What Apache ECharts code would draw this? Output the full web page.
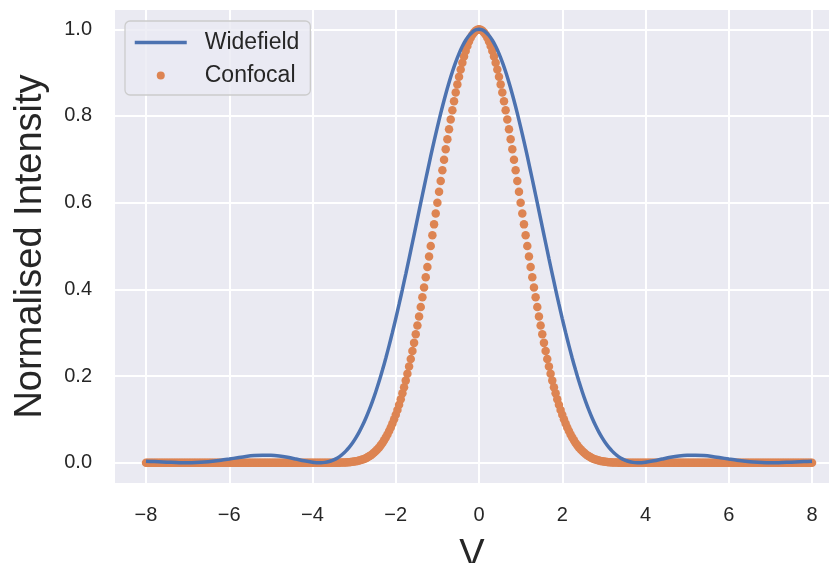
<!DOCTYPE html>
<html>
<head>
<meta charset="utf-8">
<script src="https://cdn.jsdelivr.net/npm/echarts@6/dist/echarts.min.js"></script>
<style>
  html, body { margin: 0; padding: 0; background: #fff; }
  #chart { width: 829px; height: 563px; }
</style>
</head>
<body>
<div id="chart"></div>
<script>
// tick positions
const xTicks = [-8, -6, -4, -2, 0, 2, 4, 6, 8]
const yTicks = [0, 0.2, 0.4, 0.6, 0.8, 1.0]

// widefield curve
const wideV = [
  -8, -7.8, -7.6, -7.4, -7.2, -7, -6.8, -6.6, -6.4, -6.2, -6, -5.8, -5.6, -5.4, -5.2, -5, -4.8, -4.6, -4.4, -4.2, -4,
  -3.9, -3.8, -3.7,
  -3.6, -3.52, -3.44, -3.36, -3.28, -3.2, -3.12, -3.04, -2.96, -2.88, -2.8, -2.72, -2.64, -2.56, -2.48, -2.4,
  -2.32, -2.24, -2.16, -2.08, -2, -1.92, -1.84, -1.76, -1.68, -1.6, -1.52, -1.44, -1.36, -1.28, -1.2,
  -1.12, -1.04, -0.96, -0.88, -0.8, -0.72, -0.64, -0.56, -0.48, -0.4, -0.32, -0.24, -0.16, -0.08,
  0,
  0.08, 0.16, 0.24, 0.32, 0.4, 0.48, 0.56, 0.64, 0.72, 0.8, 0.88, 0.96, 1.04, 1.12,
  1.2, 1.28, 1.36, 1.44, 1.52, 1.6, 1.68, 1.76, 1.84, 1.92, 2, 2.08, 2.16, 2.24, 2.32,
  2.4, 2.48, 2.56, 2.64, 2.72, 2.8, 2.88, 2.96, 3.04, 3.12, 3.2, 3.28, 3.36, 3.44, 3.52, 3.6,
  3.7, 3.8, 3.9,
  4, 4.2, 4.4, 4.6, 4.8, 5, 5.2, 5.4, 5.6, 5.8, 6, 6.2, 6.4, 6.6, 6.8, 7, 7.2, 7.4, 7.6, 7.8, 8
]
const wideI = [
  0.0034, 0.0027, 0.0018, 0.0009, 0.0002, 0.0000, 0.0004, 0.0014, 0.0032, 0.0056, 0.0085, 0.0115, 0.0143, 0.0164, 0.0174, 0.0172, 0.0155, 0.0124, 0.0085, 0.0044, 0.0011,
  0.0002, 0.0000, 0.0008,
  0.0028, 0.0054, 0.0089, 0.0136, 0.0195, 0.0267, 0.0353, 0.0454, 0.0572, 0.0705, 0.0856, 0.1025, 0.1212, 0.1416, 0.1639, 0.1879,
  0.2137, 0.2411, 0.2702, 0.3007, 0.3326, 0.3658, 0.4000, 0.4352, 0.4711, 0.5075, 0.5442, 0.5810, 0.6177, 0.6540, 0.6897,
  0.7245, 0.7582, 0.7906, 0.8213, 0.8503, 0.8772, 0.9019, 0.9241, 0.9438, 0.9607, 0.9747, 0.9857, 0.9936, 0.9984,
  1.0000,
  0.9984, 0.9936, 0.9857, 0.9747, 0.9607, 0.9438, 0.9241, 0.9019, 0.8772, 0.8503, 0.8213, 0.7906, 0.7582, 0.7245,
  0.6897, 0.6540, 0.6177, 0.5810, 0.5442, 0.5075, 0.4711, 0.4352, 0.4000, 0.3658, 0.3326, 0.3007, 0.2702, 0.2411, 0.2137,
  0.1879, 0.1639, 0.1416, 0.1212, 0.1025, 0.0856, 0.0705, 0.0572, 0.0454, 0.0353, 0.0267, 0.0195, 0.0136, 0.0089, 0.0054, 0.0028,
  0.0008, 0.0000, 0.0002,
  0.0011, 0.0044, 0.0085, 0.0124, 0.0155, 0.0172, 0.0174, 0.0164, 0.0143, 0.0115, 0.0085, 0.0056, 0.0032, 0.0014, 0.0004, 0.0000, 0.0002, 0.0009, 0.0018, 0.0027, 0.0034
]

// confocal points
const confV = [
  -8, -7.96, -7.92, -7.88, -7.84, -7.8, -7.76, -7.72, -7.68, -7.64, -7.6, -7.56, -7.52, -7.48, -7.44, -7.4, -7.36, -7.32, -7.28, -7.24, -7.2, -7.16, -7.12, -7.08, -7.04,
  -7, -6.96, -6.92, -6.88, -6.84, -6.8, -6.76, -6.72, -6.68, -6.64, -6.6, -6.56, -6.52, -6.48, -6.44, -6.4, -6.36, -6.32, -6.28, -6.24, -6.2, -6.16, -6.12, -6.08, -6.04,
  -6, -5.96, -5.92, -5.88, -5.84, -5.8, -5.76, -5.72, -5.68, -5.64, -5.6, -5.56, -5.52, -5.48, -5.44, -5.4, -5.36, -5.32, -5.28, -5.24, -5.2, -5.16, -5.12, -5.08, -5.04,
  -5, -4.96, -4.92, -4.88, -4.84, -4.8, -4.76, -4.72, -4.68, -4.64, -4.6, -4.56, -4.52, -4.48, -4.44, -4.4, -4.36, -4.32, -4.28, -4.24, -4.2, -4.16, -4.12, -4.08, -4.04,
  -4, -3.96, -3.92, -3.88, -3.84, -3.8, -3.76, -3.72, -3.68, -3.64, -3.6, -3.56, -3.52, -3.48, -3.44, -3.4, -3.36, -3.32, -3.28, -3.24, -3.2, -3.16, -3.12, -3.08, -3.04,
  -3, -2.96, -2.92, -2.88, -2.84, -2.8, -2.76, -2.72, -2.68, -2.64, -2.6, -2.56, -2.52, -2.48, -2.44, -2.4, -2.36, -2.32, -2.28, -2.24, -2.2, -2.16, -2.12, -2.08, -2.04,
  -2, -1.96, -1.92, -1.88, -1.84, -1.8, -1.76, -1.72, -1.68, -1.64, -1.6, -1.56, -1.52, -1.48, -1.44, -1.4, -1.36, -1.32, -1.28, -1.24, -1.2, -1.16, -1.12, -1.08, -1.04,
  -1, -0.96, -0.92, -0.88, -0.84, -0.8, -0.76, -0.72, -0.68, -0.64, -0.6, -0.56, -0.52, -0.48, -0.44, -0.4, -0.36, -0.32, -0.28, -0.24, -0.2, -0.16, -0.12, -0.08, -0.04,
  0,
  0.04, 0.08, 0.12, 0.16, 0.2, 0.24, 0.28, 0.32, 0.36, 0.4, 0.44, 0.48, 0.52, 0.56, 0.6, 0.64, 0.68, 0.72, 0.76, 0.8, 0.84, 0.88, 0.92, 0.96, 1,
  1.04, 1.08, 1.12, 1.16, 1.2, 1.24, 1.28, 1.32, 1.36, 1.4, 1.44, 1.48, 1.52, 1.56, 1.6, 1.64, 1.68, 1.72, 1.76, 1.8, 1.84, 1.88, 1.92, 1.96, 2,
  2.04, 2.08, 2.12, 2.16, 2.2, 2.24, 2.28, 2.32, 2.36, 2.4, 2.44, 2.48, 2.52, 2.56, 2.6, 2.64, 2.68, 2.72, 2.76, 2.8, 2.84, 2.88, 2.92, 2.96, 3,
  3.04, 3.08, 3.12, 3.16, 3.2, 3.24, 3.28, 3.32, 3.36, 3.4, 3.44, 3.48, 3.52, 3.56, 3.6, 3.64, 3.68, 3.72, 3.76, 3.8, 3.84, 3.88, 3.92, 3.96, 4,
  4.04, 4.08, 4.12, 4.16, 4.2, 4.24, 4.28, 4.32, 4.36, 4.4, 4.44, 4.48, 4.52, 4.56, 4.6, 4.64, 4.68, 4.72, 4.76, 4.8, 4.84, 4.88, 4.92, 4.96, 5,
  5.04, 5.08, 5.12, 5.16, 5.2, 5.24, 5.28, 5.32, 5.36, 5.4, 5.44, 5.48, 5.52, 5.56, 5.6, 5.64, 5.68, 5.72, 5.76, 5.8, 5.84, 5.88, 5.92, 5.96, 6,
  6.04, 6.08, 6.12, 6.16, 6.2, 6.24, 6.28, 6.32, 6.36, 6.4, 6.44, 6.48, 6.52, 6.56, 6.6, 6.64, 6.68, 6.72, 6.76, 6.8, 6.84, 6.88, 6.92, 6.96, 7,
  7.04, 7.08, 7.12, 7.16, 7.2, 7.24, 7.28, 7.32, 7.36, 7.4, 7.44, 7.48, 7.52, 7.56, 7.6, 7.64, 7.68, 7.72, 7.76, 7.8, 7.84, 7.88, 7.92, 7.96, 8
]
const confI = [
  0, 0, 0, 0, 0, 0, 0, 0, 0, 0, 0, 0, 0, 0, 0, 0, 0, 0, 0, 0, 0, 0, 0, 0, 0,
  0, 0, 0, 0, 0, 0, 0, 0, 0, 0, 0, 0, 0, 0, 0, 0, 0, 0, 0, 0, 0, 0, 0, 0, 0,
  0, 0, 0, 0, 0, 0, 0, 0, 0, 0, 0, 0, 0, 0, 0, 0, 0, 0, 0, 0, 0, 0, 0, 0, 0,
  0, 0, 0, 0, 0, 0, 0, 0, 0, 0, 0, 0, 0, 0, 0, 0, 0, 0, 0, 0, 0, 0, 0, 0, 0,
  0, 0, 0, 0, 0, 0, 0, 0, 0, 0, 0, 0, 0, 0, 0.0001, 0.0001, 0.0002, 0.0003, 0.0004, 0.0005, 0.0007, 0.0009, 0.0012, 0.0016, 0.0021,
  0.0026, 0.0033, 0.0041, 0.0050, 0.0061, 0.0073, 0.0088, 0.0105, 0.0125, 0.0147, 0.0172, 0.0201, 0.0233, 0.0269, 0.0309, 0.0353, 0.0402, 0.0457, 0.0516, 0.0581, 0.0653, 0.0730, 0.0814, 0.0904, 0.1002,
  0.1106, 0.1218, 0.1338, 0.1465, 0.1600, 0.1743, 0.1894, 0.2052, 0.2219, 0.2393, 0.2575, 0.2765, 0.2962, 0.3165, 0.3376, 0.3593, 0.3816, 0.4044, 0.4277, 0.4515, 0.4757, 0.5002, 0.5249, 0.5499, 0.5749,
  0.6000, 0.6250, 0.6499, 0.6746, 0.6990, 0.7230, 0.7465, 0.7695, 0.7918, 0.8134, 0.8341, 0.8540, 0.8729, 0.8907, 0.9074, 0.9229, 0.9371, 0.9500, 0.9615, 0.9716, 0.9802, 0.9873, 0.9928, 0.9968, 0.9992,
  1,
  0.9992, 0.9968, 0.9928, 0.9873, 0.9802, 0.9716, 0.9615, 0.9500, 0.9371, 0.9229, 0.9074, 0.8907, 0.8729, 0.8540, 0.8341, 0.8134, 0.7918, 0.7695, 0.7465, 0.7230, 0.6990, 0.6746, 0.6499, 0.6250, 0.6000,
  0.5749, 0.5499, 0.5249, 0.5002, 0.4757, 0.4515, 0.4277, 0.4044, 0.3816, 0.3593, 0.3376, 0.3165, 0.2962, 0.2765, 0.2575, 0.2393, 0.2219, 0.2052, 0.1894, 0.1743, 0.1600, 0.1465, 0.1338, 0.1218, 0.1106,
  0.1002, 0.0904, 0.0814, 0.0730, 0.0653, 0.0581, 0.0516, 0.0457, 0.0402, 0.0353, 0.0309, 0.0269, 0.0233, 0.0201, 0.0172, 0.0147, 0.0125, 0.0105, 0.0088, 0.0073, 0.0061, 0.0050, 0.0041, 0.0033, 0.0026,
  0.0021, 0.0016, 0.0012, 0.0009, 0.0007, 0.0005, 0.0004, 0.0003, 0.0002, 0.0001, 0.0001, 0, 0, 0, 0, 0, 0, 0, 0, 0, 0, 0, 0, 0, 0,
  0, 0, 0, 0, 0, 0, 0, 0, 0, 0, 0, 0, 0, 0, 0, 0, 0, 0, 0, 0, 0, 0, 0, 0, 0,
  0, 0, 0, 0, 0, 0, 0, 0, 0, 0, 0, 0, 0, 0, 0, 0, 0, 0, 0, 0, 0, 0, 0, 0, 0,
  0, 0, 0, 0, 0, 0, 0, 0, 0, 0, 0, 0, 0, 0, 0, 0, 0, 0, 0, 0, 0, 0, 0, 0, 0,
  0, 0, 0, 0, 0, 0, 0, 0, 0, 0, 0, 0, 0, 0, 0, 0, 0, 0, 0, 0, 0, 0, 0, 0, 0
]

const font = "'Liberation Sans', Arial, sans-serif"
const ink = '#262626'
const blue = '#4c72b0', orange = '#dd8452'

const chart = echarts.init(document.getElementById('chart'), null, {renderer: 'canvas'})

const option = {
    animation: false,
    backgroundColor: '#ffffff',
    grid: {
        left: 115, top: 10, width: 714, height: 473,
        outerBoundsMode: 'none', containLabel: false,
        show: true, backgroundColor: '#eaeaf2', borderWidth: 0
    },
    legend: {
        orient: 'vertical',
        left: 125, top: 21,
        itemWidth: 52, itemHeight: 8, itemGap: 10,
        padding: [10, 11, 8, 8],
        backgroundColor: 'rgba(234,234,242,0.8)',
        borderColor: '#cccccc', borderWidth: 1.3, borderRadius: 5,
        textStyle: {fontSize: 23, color: ink, fontFamily: font, padding: [0, 0, 0, 13]},
        data: [
            {name: 'Widefield', itemStyle: {opacity: 0}, lineStyle: {color: blue, width: 3.5}},
            {name: 'Confocal', icon: 'circle', itemStyle: {color: orange}}
        ]
    },
    xAxis: {
        type: 'value', min: -8.745, max: 8.408,
        name: 'V', nameLocation: 'middle', nameGap: 54,
        nameTextStyle: {fontSize: 38, color: ink, fontFamily: font},
        axisLine: {show: false},
        axisTick: {show: false, customValues: xTicks},
        axisLabel: {
            customValues: xTicks, fontSize: 20, color: ink, fontFamily: font, margin: 22,
            formatter: v => (v < 0 ? '\u2212' + Math.abs(v) : String(v))
        },
        splitLine: {show: true, lineStyle: {color: '#ffffff', width: 2}}
    },
    yAxis: {
        type: 'value', min: -0.0468, max: 1.0445,
        name: 'Normalised Intensity', nameLocation: 'middle', nameGap: 65,
        nameTextStyle: {fontSize: 38, color: ink, fontFamily: font},
        axisLine: {show: false},
        axisTick: {show: false, customValues: yTicks},
        axisLabel: {
            customValues: yTicks, fontSize: 20, color: ink, fontFamily: font, margin: 23,
            formatter: v => v.toFixed(1)
        },
        splitLine: {show: true, lineStyle: {color: '#ffffff', width: 2}}
    },
    series: [
        {
            name: 'Widefield', type: 'line',
            data: wideV.map((v, i) => [v, wideI[i]]),
            symbol: 'none', smooth: 0.3,
            lineStyle: {color: blue, width: 3.5},
            itemStyle: {color: blue}
        },
        {
            name: 'Confocal', type: 'scatter',
            data: confV.map((v, i) => [v, confI[i]]),
            symbol: 'circle', symbolSize: 8.5,
            itemStyle: {color: orange, opacity: 1}
        }
    ]
}

chart.setOption(option)
</script>
</body>
</html>
